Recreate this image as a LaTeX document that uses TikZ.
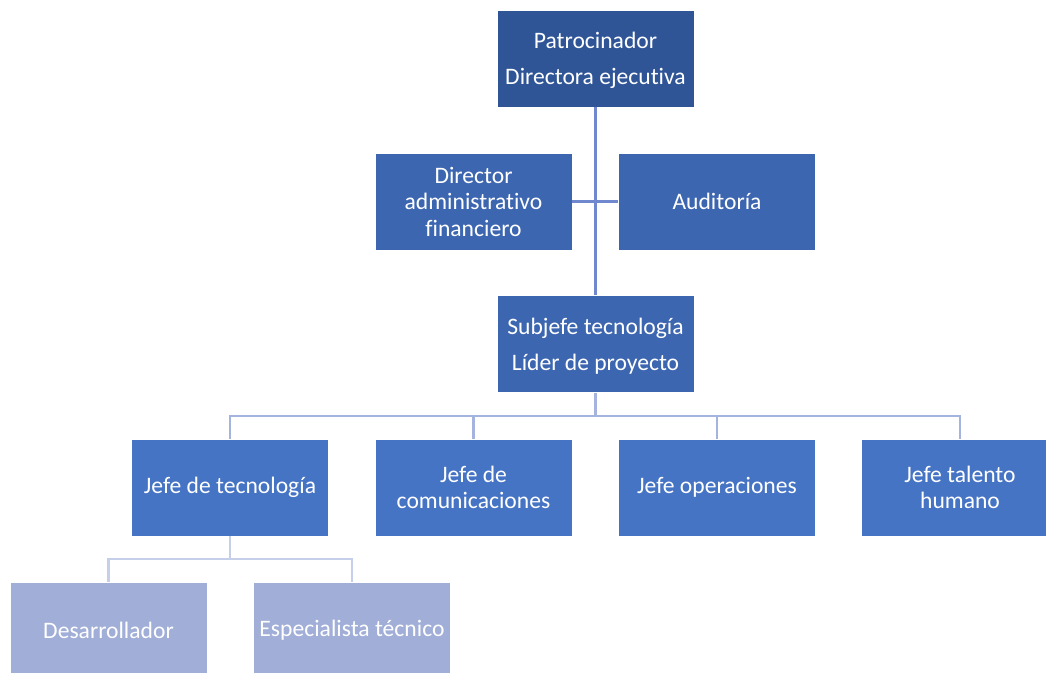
\documentclass[tikz,border=0pt]{standalone}
\usepackage{fontspec}
\setmainfont{Carlito}[Ligatures=CommonOff]
\begin{document}
\begin{tikzpicture}[x=1pt,y=-1pt,
  box/.style={draw=white, line width=0.6pt, text=white, minimum width=197pt, minimum height=97pt,
    inner sep=1pt, align=center, font=\fontsize{23.6}{26.5}\selectfont},
  lvA/.style={box, fill=topblue},
  lvB/.style={box, fill=midblue},
  lvC/.style={box, fill=accblue},
  lvD/.style={box, fill=paleblue},
  spaced/.style={text depth=0pt},
  linkA/.style={draw=lineA, line width=2.6pt},
  linkB/.style={draw=lineB, line width=2.6pt},
  linkC/.style={draw=lineC, line width=2.6pt}]
\definecolor{topblue}{RGB}{47,85,151}
\definecolor{midblue}{RGB}{61,102,176}
\definecolor{accblue}{RGB}{70,116,196}
\definecolor{paleblue}{RGB}{160,174,216}
\definecolor{lineA}{RGB}{112,137,206}
\definecolor{lineB}{RGB}{164,180,222}
\definecolor{lineC}{RGB}{197,207,233}
\useasboundingbox (0,0) rectangle (1046,672);

% bus points of the two lower levels
\coordinate (busA) at (595.5,416);
\coordinate (busB) at (230,559);

% boxes
\node[lvA, spaced] (pat) at (595.5,58.5) {Patrocinador\\[9.5pt]Directora ejecutiva};
\node[lvB] (dir) at (473.5,201.5) {Director\\administrativo\\financiero};
\node[lvB] (aud) at (717,201.5) {Auditoría};
\node[lvB, spaced] (sub) at (595.5,344) {Subjefe tecnología\\[9.5pt]Líder de proyecto};
\node[lvC] (jt) at (230,487.5) {Jefe de tecnología};
\node[lvC] (jc) at (473.5,487.5) {Jefe de\\comunicaciones};
\node[lvC] (jo) at (717,487.5) {Jefe operaciones};
\node[lvC] (jh) at (960,487.5) {Jefe talento\\humano};
\node[lvD] (des) at (108.5,630.5) {Desarrollador};
\node[lvD] (esp) at (352,630.5) {Especialista técnico};

% connectors
\draw[linkA] (pat.south) -- (sub.north);
\draw[linkA] (dir.east) -- (aud.west);
\draw[linkB] (sub.south) -- (busA);
\draw[linkB] (jt.north) |- (busA) -| (jh.north);
\draw[linkB] (jc.north) -- (jc.north |- busA);
\draw[linkB] (jo.north) -- (jo.north |- busA);
\draw[linkC] (jt.south) -- (busB);
\draw[linkC] (des.north) |- (busB) -| (esp.north);
\end{tikzpicture}
\end{document}
